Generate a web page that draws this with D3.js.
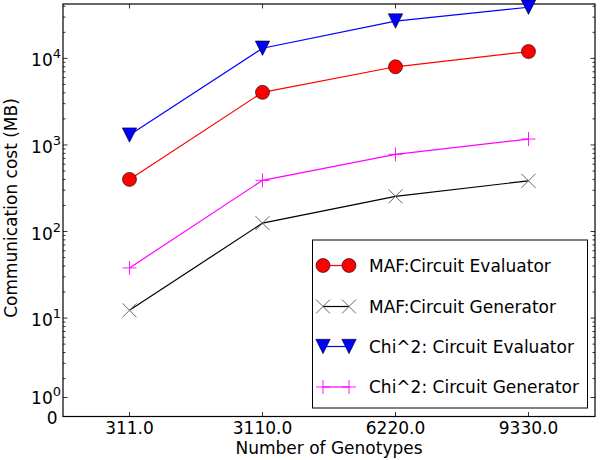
<!DOCTYPE html>
<html><head><meta charset="utf-8">
<script src="https://cdn.jsdelivr.net/npm/d3@7"></script>
<style>body{margin:0;background:#fff}svg{display:block}text{font-family:"DejaVu Sans",sans-serif;fill:#000}</style>
</head><body><svg id="c" width="600" height="460"></svg>
<script>
const categories = ["311.0", "3110.0", "6220.0", "9330.0"];
const mafEvaluator = [400, 4050, 8000, 12000];
const mafGenerator = [12.3, 125, 255, 385];
const chiEvaluator = [1300, 13100, 27000, 39000];
const chiGenerator = [38, 390, 780, 1170];
const seriesNames = ["MAF:Circuit Evaluator", "MAF:Circuit Generator", "Chi^2: Circuit Evaluator", "Chi^2: Circuit Generator"];
const yMajorTicks = [0, 1, 10, 100, 1000, 10000];
const yMajorLabels = ["0", "10|0", "10|1", "10|2", "10|3", "10|4"];
const yMax = 42500;

const L = {left: 63, right: 595, top: 4, bottom: 416.5};
const FS = "17px";
const svg = d3.select("#c");

// symmetric-log style transform (linear below threshold 2)
const linthresh = 2, linDecades = 0.438;
const tf = v => v <= linthresh ? v / linthresh * linDecades : linDecades + Math.log10(v / linthresh);
const yLin = d3.scaleLinear().domain([0, tf(yMax)]).range([L.bottom, L.top]);
const y = v => yLin(tf(v));
const x = d3.scalePoint().domain(categories).range([L.left, L.right]).padding(0.5);

const g = svg.append("g");
g.append("rect").attr("x", L.left).attr("y", L.top).attr("width", L.right - L.left).attr("height", L.bottom - L.top)
  .attr("fill", "none").attr("stroke", "#000").attr("stroke-width", 1.2);

const minor = [];
for (let k = 0; k <= 4; k++) for (let m = 2; m <= 9; m++) { const v = m * Math.pow(10, k); if (v < yMax) minor.push(v); }
minor.forEach(v => {
  const yy = y(v);
  g.append("line").attr("x1", L.left).attr("x2", L.left + 2.5).attr("y1", yy).attr("y2", yy).attr("stroke", "#000").attr("stroke-width", 0.8);
  g.append("line").attr("x1", L.right).attr("x2", L.right - 2.5).attr("y1", yy).attr("y2", yy).attr("stroke", "#000").attr("stroke-width", 0.8);
});
yMajorTicks.forEach((v, i) => {
  const yy = y(v);
  if (v > 0) {
    g.append("line").attr("x1", L.left).attr("x2", L.left + 4.5).attr("y1", yy).attr("y2", yy).attr("stroke", "#000").attr("stroke-width", 0.8);
    g.append("line").attr("x1", L.right).attr("x2", L.right - 4.5).attr("y1", yy).attr("y2", yy).attr("stroke", "#000").attr("stroke-width", 0.8);
  }
  const parts = yMajorLabels[i].split("|");
  const t = g.append("text").attr("text-anchor", "end").style("font-size", "17px");
  if (parts.length === 1) { t.attr("x", 57.5).attr("y", yy + 7).text(parts[0]); }
  else {
    t.attr("x", 61).attr("y", yy + (v === 1 ? 6 : 8));
    t.append("tspan").text(parts[0]);
    t.append("tspan").attr("dy", -8).style("font-size", "13px").text(parts[1]);
  }
});
categories.forEach(c => {
  const xx = x(c);
  g.append("line").attr("x1", xx).attr("x2", xx).attr("y1", L.bottom).attr("y2", L.bottom - 4.5).attr("stroke", "#000").attr("stroke-width", 0.8);
  g.append("line").attr("x1", xx).attr("x2", xx).attr("y1", L.top).attr("y2", L.top + 4.5).attr("stroke", "#000").attr("stroke-width", 0.8);
  g.append("text").attr("x", xx).attr("y", 434).attr("text-anchor", "middle").style("font-size", FS).text(c);
});
svg.append("text").attr("x", 329).attr("y", 454).attr("text-anchor", "middle").style("font-size", FS).text("Number of Genotypes");
svg.append("text").attr("transform", "translate(17,208) rotate(-90)").attr("text-anchor", "middle").style("font-size", FS).text("Communication cost (MB)");

function drawMarker(sel, type, cx, cy, color) {
  if (type === "circle") {
    sel.append("circle").attr("cx", cx).attr("cy", cy).attr("r", 7).attr("fill", "#ff0000").attr("stroke", "#000").attr("stroke-width", 0.6);
  } else if (type === "tri") {
    const s = 7.2;
    sel.append("path").attr("d", `M${cx - s},${cy - s}L${cx + s},${cy - s}L${cx},${cy + s}Z`).attr("fill", "#0000ff").attr("stroke", "#000").attr("stroke-width", 0.6);
  } else if (type === "x") {
    const s = 7;
    sel.append("path").attr("d", `M${cx - s},${cy - s}L${cx + s},${cy + s}M${cx - s},${cy + s}L${cx + s},${cy - s}`).attr("stroke", "#666").attr("stroke-width", 1).attr("fill", "none");
  } else {
    const s = 7;
    sel.append("path").attr("d", `M${cx - s},${cy}L${cx + s},${cy}M${cx},${cy - s}L${cx},${cy + s}`).attr("stroke", color).attr("stroke-width", 0.9).attr("fill", "none");
  }
}
const series = [
  {vals: mafEvaluator, color: "#ff0000", marker: "circle"},
  {vals: mafGenerator, color: "#000000", marker: "x"},
  {vals: chiEvaluator, color: "#0000ff", marker: "tri"},
  {vals: chiGenerator, color: "#ff00ff", marker: "plus"}
];
const line = d3.line().x((d, i) => x(categories[i])).y(d => y(d));
const pg = svg.append("g");
series.forEach(s => {
  pg.append("path").attr("d", line(s.vals)).attr("fill", "none").attr("stroke", s.color).attr("stroke-width", 1.2);
  s.vals.forEach((v, i) => drawMarker(pg, s.marker, x(categories[i]), y(v), s.color));
});

const lg = svg.append("g");
lg.append("rect").attr("x", 312.5).attr("y", 240).attr("width", 275).attr("height", 168).attr("fill", "#fff").attr("stroke", "#000").attr("stroke-width", 1);
const rowY = [265.5, 306.5, 346.5, 387];
series.forEach((s, i) => {
  const yy = rowY[i];
  lg.append("line").attr("x1", 323).attr("x2", 349).attr("y1", yy).attr("y2", yy).attr("stroke", s.color).attr("stroke-width", 1.2);
  drawMarker(lg, s.marker, 323, yy, s.color);
  drawMarker(lg, s.marker, 349, yy, s.color);
  lg.append("text").attr("x", 369).attr("y", yy + 6).style("font-size", FS).text(seriesNames[i]);
});
</script></body></html>
